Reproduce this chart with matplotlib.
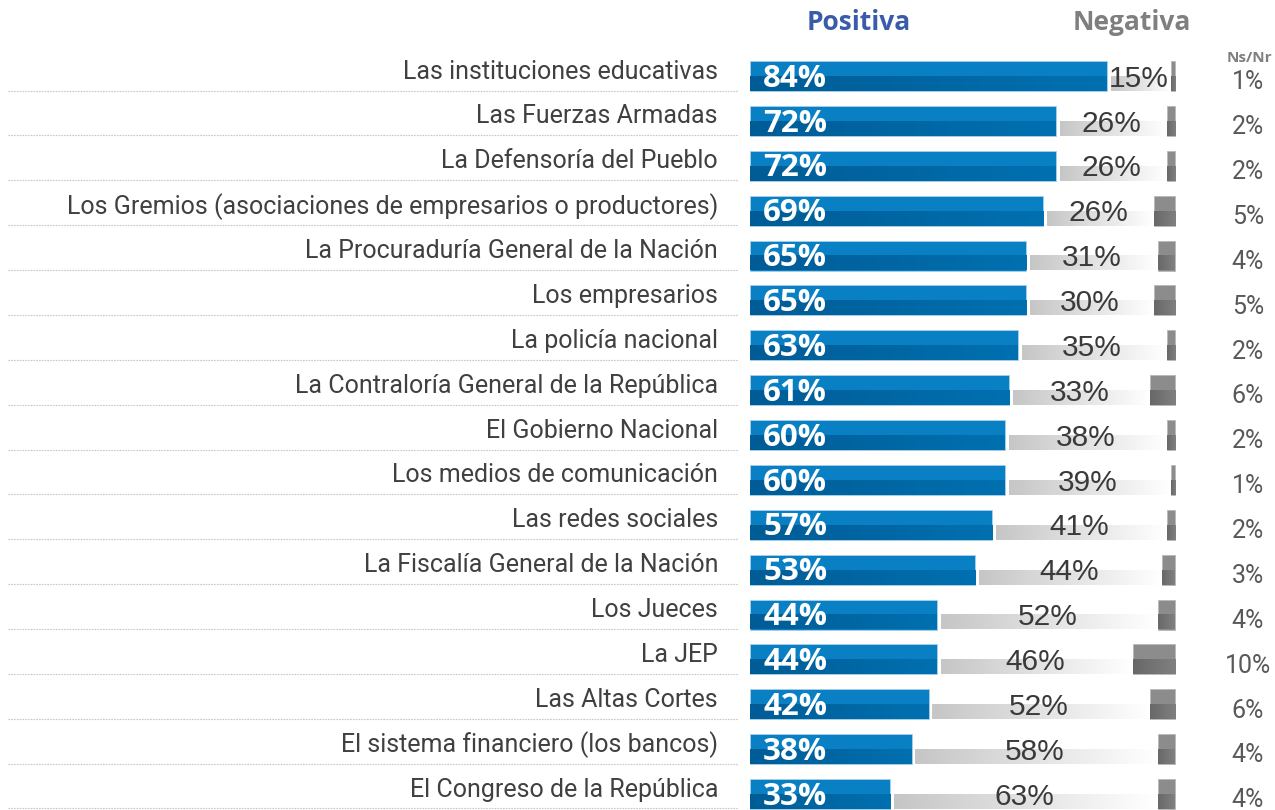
import matplotlib
matplotlib.use("Agg")
import matplotlib.pyplot as plt
import numpy as np
from matplotlib.colors import to_rgb

categories = [
    "Las instituciones educativas",
    "Las Fuerzas Armadas",
    "La Defensoría del Pueblo",
    "Los Gremios (asociaciones de empresarios o productores)",
    "La Procuraduría General de la Nación",
    "Los empresarios",
    "La policía nacional",
    "La Contraloría General de la República",
    "El Gobierno Nacional",
    "Los medios de comunicación",
    "Las redes sociales",
    "La Fiscalía General de la Nación",
    "Los Jueces",
    "La JEP",
    "Las Altas Cortes",
    "El sistema financiero (los bancos)",
    "El Congreso de la República",
]
positiva = [84, 72, 72, 69, 65, 65, 63, 61, 60, 60, 57, 53, 44, 44, 42, 38, 33]
negativa = [15, 26, 26, 26, 31, 30, 35, 33, 38, 39, 41, 44, 52, 46, 52, 58, 63]
nsnr = [1, 2, 2, 5, 4, 5, 2, 6, 2, 1, 2, 3, 4, 10, 6, 4, 4]

W, H = 1275, 810
fig = plt.figure(figsize=(W / 100, H / 100), dpi=100)
ax = fig.add_axes([0, 0, 1, 1])
ax.axis("off")

# pixel mapping (layout only)
x0_px, k = 750.0, 4.25
y0_px, pitch = 76.0, 44.875
ax.set_xlim(-x0_px / k, (W - x0_px) / k)
ax.set_ylim((H - y0_px) / pitch, -y0_px / pitch)

def px_x(p):
    return (p - x0_px) / k

def px_y(p):
    return (p - y0_px) / pitch

lab_font = "Roboto"
bold_font = "Open Sans"

bar_h = 30 / pitch
gap = 0.9

blue_top = "#0A80C4"
blue_bot_l = "#005C96"
blue_bot_r = "#0070B0"

def hgrad(x0, x1, y0, y1, c0, c1, z=2):
    a = np.array(to_rgb(c0)); b = np.array(to_rgb(c1))
    t = np.linspace(0, 1, 64)[None, :, None]
    img = a + (b - a) * t
    ax.imshow(img, extent=(x0, x1, y1, y0), aspect="auto", zorder=z,
              interpolation="bilinear")

for i, (cat, p, n, s) in enumerate(zip(categories, positiva, negativa, nsnr)):
    mid = i
    bot = i + bar_h / 2
    # blue bar
    ax.barh(i, p, height=bar_h, left=0, color=blue_top, edgecolor="#a8d0ea",
            linewidth=0.6, zorder=1)
    hgrad(0, p, mid + 0.02, bot, blue_bot_l, blue_bot_r, z=2)
    # gray (negative) bar, lower half with gradient
    hgrad(p + gap, p + n, mid, bot, "#c6c6c6", "#ffffff", z=2)
    # ns/nr bar
    ax.barh(i, s, height=bar_h, left=100 - s, color="#8c8c8c",
            edgecolor="#b8b8b8", linewidth=0.6, zorder=1)
    hgrad(100 - s, 100, mid, bot, "#686868", "#808080", z=2)

    # labels
    ax.text(px_x(718), i - 0.1, cat, ha="right", va="center", fontsize=18,
            color="#404040", family=lab_font)
    ax.plot([px_x(8), px_x(738)], [px_y(90.5) + i, px_y(90.5) + i],
            color="#c8c8c8", lw=0.8, ls=(0, (1.5, 1)), zorder=0)
    ax.text(px_x(763), i + 0.06, f"{p}%", ha="left", va="center", fontsize=22.5,
            color="white", fontweight="bold", family=bold_font, zorder=5)
    ax.text(p + n / 2, i + 0.06, f"{n}%", ha="center", va="center",
            fontsize=21.5, color="#3a3a3a", family="Liberation Sans", zorder=5)
    ax.text(px_x(1248), i + 0.14, f"{s}%", ha="center", va="center",
            fontsize=18, color="#595959", family=lab_font, zorder=5)

ax.text(px_x(859), px_y(22), "Positiva", ha="center", va="center", fontsize=19,
        color="#3A5BA9", fontweight="bold", family=bold_font)
ax.text(px_x(1132), px_y(22), "Negativa", ha="center", va="center", fontsize=19,
        color="#7F7F7F", fontweight="bold", family=bold_font)
ax.text(px_x(1249), px_y(58), "Ns/Nr", ha="center", va="center", fontsize=11,
        color="#7F7F7F", fontweight="bold", family=bold_font)

fig.savefig("out.png", dpi=100)
